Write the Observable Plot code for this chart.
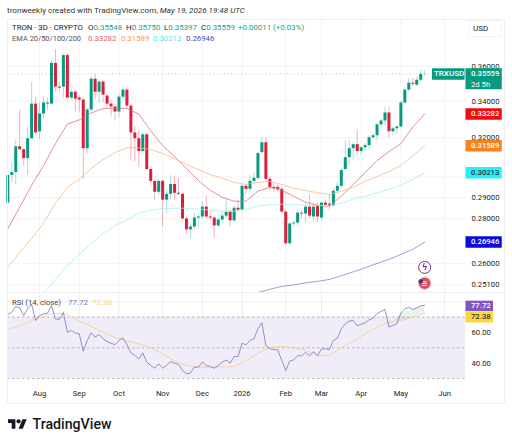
<!DOCTYPE html>
<html><head><meta charset="utf-8">
<script src="https://cdn.jsdelivr.net/npm/d3@7"></script>
<script src="https://cdn.jsdelivr.net/npm/@observablehq/plot@0.6"></script>
<style>
html,body{margin:0;padding:0;background:#fff}
body{width:512px;height:444px;position:relative;overflow:hidden;font-family:Roboto,"Liberation Sans",sans-serif;color:#222}
.a{position:absolute;white-space:nowrap;line-height:1}
svg{display:block}
#frame{position:absolute;left:6.5px;top:19px;width:498px;height:385px;border:1px solid #f0f0f0;box-sizing:border-box}
#sep{position:absolute;left:7px;top:292px;width:497px;height:1px;background:#eee}
#usd{position:absolute;left:468px;top:20px;width:34px;height:17px;border:1px solid #f3f3f3;border-radius:2px;box-sizing:border-box}
</style></head><body>
<div id="price" class="a" style="left:0;top:19px"></div>
<div id="rsi" class="a" style="left:0;top:293px"></div>
<div id="frame"></div><div id="sep"></div><div id="usd"></div>
<div class="a" style="left:7px;top:6px;font-size:8.1px;color:#333">tronweekly created with TradingView.com, <i>May 19, 2026 19:48 UTC</i></div>
<div id="legends"></div>
<div class="a" style="left:473px;top:25px;font-size:8px">USD</div>
<svg class="a" style="left:8px;top:419px" width="19" height="10" viewBox="0 4 36 18"><path d="M14 22H7V11H0V4h14v18zM28 22h-8l7.5-18h8L28 22z" fill="#131722"/><circle cx="20" cy="8" r="4" fill="#131722"/></svg>
<div class="a" style="left:32.5px;top:417px;font-size:14.2px;font-weight:500;color:#131722">TradingView</div>
<script>
const opens=[.2873,.3007,.3022,.3153,.3138,.3092,.3195,.3383,.3232,.3328,.3383,.3383,.3618,.3479,.3479,.3665,.3417,.3450,.3417,.3406,.3143,.3350,.3525,.3450,.3508,.3428,.3383,.3367,.3339,.3422,.3462,.3372,.3226,.3195,.3128,.3216,.3037,.2978,.2925,.2978,.2887,.2915,.2963,.2920,.2915,.2799,.2749,.2762,.2803,.2808,.2854,.2808,.2803,.2767,.2794,.2812,.2831,.2790,.2849,.2840,.2954,.2939,.2978,.2993,.3123,.3174,.2988,.2949,.2949,.2939,.2831,.2687,.2776,.2780,.2826,.2822,.2854,.2808,.2859,.2803,.2873,.2868,.2859,.2930,.2954,.3037,.3097,.3143,.3164,.3128,.3148,.3159,.3200,.3211,.3269,.3290,.3334,.3232,.3248,.3258,.3389,.3462,.3502,.3490,.3519,.35548];
const highs=[.3027,.3072,.3190,.3350,.3138,.3258,.3508,.3417,.3389,.3422,.3417,.3635,.3701,.3508,.3677,.3677,.3462,.3462,.3428,.3417,.3361,.3542,.3553,.3519,.3519,.3439,.3406,.3383,.3434,.3473,.3473,.3383,.3258,.3237,.3226,.3226,.3047,.2983,.2988,.2983,.2934,.3007,.3002,.2993,.2920,.2808,.2771,.2826,.2822,.2877,.2906,.2831,.2812,.2803,.2831,.2892,.2840,.2859,.2887,.2963,.2963,.3007,.3022,.3123,.3200,.3200,.2998,.2968,.2959,.2949,.2840,.2780,.2790,.2840,.2835,.2868,.2911,.2868,.2873,.2877,.2887,.2915,.2944,.2973,.3042,.3185,.3185,.3174,.3242,.3153,.3169,.3211,.3226,.3280,.3301,.3367,.3367,.3258,.3264,.3400,.3473,.3530,.3530,.3536,.3577,.35750];
const lows=[.2868,.2973,.2959,.3133,.3052,.3007,.3195,.3211,.3190,.3301,.3350,.3383,.3450,.3450,.3417,.3417,.3406,.3339,.3339,.2988,.3118,.3339,.3406,.3389,.3389,.3361,.3312,.3290,.3307,.3406,.3361,.3082,.3077,.3047,.3118,.3032,.2968,.2887,.2911,.2762,.2822,.2887,.2887,.2906,.2790,.2731,.2709,.2753,.2758,.2799,.2799,.2790,.2709,.2758,.2780,.2799,.2762,.2780,.2831,.2831,.2915,.2925,.2963,.2983,.3112,.2978,.2934,.2925,.2925,.2822,.2678,.2678,.2762,.2767,.2799,.2780,.2799,.2790,.2780,.2790,.2849,.2840,.2859,.2920,.2944,.3027,.3057,.3082,.3107,.3107,.3133,.3133,.3185,.3185,.3253,.3264,.3200,.3211,.3216,.3253,.3378,.3450,.3484,.3484,.3508,.35397];
const closes=[.3007,.3022,.3153,.3138,.3092,.3195,.3383,.3226,.3328,.3389,.3389,.3618,.3479,.3473,.3665,.3417,.3450,.3411,.3406,.3143,.3350,.3525,.3450,.3508,.3434,.3383,.3367,.3339,.3422,.3462,.3372,.3226,.3195,.3128,.3216,.3037,.2978,.2925,.2978,.2887,.2915,.2963,.2920,.2915,.2799,.2749,.2762,.2803,.2808,.2854,.2808,.2803,.2767,.2794,.2812,.2831,.2790,.2849,.2840,.2954,.2939,.2978,.2993,.3118,.3174,.2988,.2949,.2944,.2939,.2831,.2687,.2776,.2780,.2826,.2822,.2854,.2812,.2854,.2808,.2873,.2863,.2859,.2930,.2954,.3032,.3097,.3143,.3164,.3128,.3148,.3159,.3200,.3211,.3269,.3290,.3334,.3232,.3248,.3258,.3389,.3462,.3502,.3496,.3519,.3553,.35559];
const rsiValues=[71.7,73.3,77,76.1,71.1,75.4,78.3,67.8,71.1,72.2,72.6,77.6,68.9,68.5,73,60.2,61.3,59.6,59.1,47.8,54.8,59.8,57,58.7,55.9,54.1,53,52,54.8,56.5,52.2,46.7,45,42.8,46.7,40.7,38.5,36.7,39.6,36.7,38.5,41.1,40,39.1,35.2,33,33.5,37.4,37.4,40.7,38.5,37.8,36.7,38.5,40.7,42,40,44.3,44.3,53,52,54.8,55.9,62.4,66.3,51.5,49.3,48.9,48.7,41.7,35.2,41.3,42.2,44.8,44.8,47,44.8,47.6,44.8,49.3,49.3,48.9,54.8,56.3,62.4,65.7,67.4,67.8,64.3,65.4,66.3,68.3,69.3,72.2,73.7,75,63.5,64.6,65.7,72.6,75.4,76.3,75,76.1,77.4,77.72];
// sampled every third bar
const ema20=[.2753,.2854,.2959,.3057,.3169,.3274,.3296,.3334,.3358,.3361,.3358,.3328,.3237,.3159,.3102,.3042,.2983,.2934,.2901,.2882,.2882,.2930,.2949,.2934,.2906,.2877,.2863,.2859,.2906,.2963,.3022,.3082,.3128,.3169,.3258,.33282];
const ema50=[.2584,.2648,.2709,.2780,.2873,.2949,.2988,.3042,.3087,.3123,.3148,.3148,.3138,.3118,.3092,.3062,.3037,.3012,.2993,.2973,.2963,.2973,.2978,.2963,.2944,.2934,.2922,.2915,.2930,.2949,.2978,.3002,.3027,.3057,.3107,.31589];
const ema100=[null,null,null,.2475,.2533,.2592,.2640,.2688,.2733,.2769,.2794,.2826,.2840,.2847,.2849,.2849,.2845,.2840,.2835,.2835,.2845,.2859,.2866,.2868,.2866,.2863,.2861,.2863,.2873,.2892,.2906,.2922,.2939,.2959,.2988,.30213];
const ema200=[null,null,null,null,null,null,null,null,null,null,null,null,null,null,null,null,null,null,null,null,null,.2479,.2492,.2504,.2510,.2519,.2525,.2533,.2548,.2565,.2582,.2601,.2618,.2640,.2662,.26946];
const rsiMA=[61.7,64.3,67.6,70.9,72.6,71.7,67.4,63.9,60.2,56.5,54.3,52.6,50,46.1,41.5,38.5,37.4,37.4,37.6,37.8,41.7,46.3,50.4,50.9,50,48.5,45.2,45,50,54.3,59.1,63.5,66.7,67.8,69.8,72.38];
const priceGrid=[.36,.34,.32,.30,.29,.28,.26,.251];
const priceTicks=[.36,.34,.32,.29,.28,.26,.251];
const rsiGrid=[40,60,80];
const rsiTicks=[40,60];
const rsiBands=[30,50,70];
const monthBars=[8,18,28,39,49,59,70,79,89,99,110];
const monthLabels=["Aug","Sep","Oct","Nov","Dec","2026","Feb","Mar","Apr","May","Jun"];
const priceTags=[
 {v:.33282,c:"#f20d0d",t:"#fff"},{v:.31589,c:"#f5831f",t:"#fff"},{v:.30213,c:"#26f0fa",t:"#333"},{v:.26946,c:"#0a0ae0",t:"#fff"}];

const GREEN="#089981",RED="#d81f3c";
const DAY=864e5, t0=Date.UTC(2025,6,8);           // first bar
const day=n=>new Date(t0+n*DAY);
const barDate=i=>day(i*3);
const xDomain=[day(-.23),day(373.8)];
const paneEnd=day(345.8), symEnd=day(345.5), tagStart=day(346.2), tagEnd=day(373.6), rsiTagEnd=day(367), labelAt=day(350), symStart=day(320.9);
const rows=opens.map((o,i)=>({date:barDate(i),o,h:highs[i],l:lows[i],c:closes[i],rsi:rsiValues[i]}));
const samples=ema20.map((_,k)=>({date:barDate(k*3),e20:ema20[k],e50:ema50[k],e100:ema100[k],e200:ema200[k],ma:rsiMA[k],rsi:rsiValues[k*3]}));
const monthDates=monthBars.map(barDate);
const col=d=>d.c>=d.o?GREEN:RED;
const fmt5=d3.format(".5f"), fmt2=d3.format(".2f");
const FONT="Roboto,'Liberation Sans',sans-serif";
const last=rows[rows.length-1];
const AX=7.7;

const price=Plot.plot({
 width:512,height:273,marginLeft:7,marginRight:10,marginTop:0,marginBottom:0,
 style:{fontFamily:FONT,background:"transparent",overflow:"visible"},
 x:{type:"utc",domain:xDomain,axis:null},
 y:{type:"log",domain:[.2479,.389],axis:null},
 marks:[
  Plot.ruleX(monthDates,{x:d=>d,stroke:"#f3f3f3"}),
  Plot.ruleY(priceGrid,{y:d=>d,x1:xDomain[0],x2:paneEnd,stroke:"#f3f3f3"}),
  Plot.ruleY([last.c],{y:d=>d,x1:xDomain[0],x2:paneEnd,stroke:"#8fcabd",strokeDasharray:"1,2.5",strokeWidth:.8}),
  Plot.ruleX(rows,{x:"date",y1:"l",y2:"h",stroke:col,strokeWidth:.8,strokeOpacity:.42}),
  Plot.ruleX(rows,{x:"date",y1:"o",y2:"c",stroke:col,strokeWidth:3}),
  Plot.line(samples,{x:"date",y:"e20",stroke:"#dd6a78",strokeWidth:.75,clip:true}),
  Plot.line(samples,{x:"date",y:"e50",stroke:"#f2bd8c",strokeWidth:.8,clip:true}),
  Plot.line(samples,{x:"date",y:"e100",stroke:"#a6f0ef",strokeWidth:.8,clip:true}),
  Plot.line(samples,{x:"date",y:"e200",stroke:"#8a80cc",strokeWidth:.8,clip:true}),
  Plot.axisY(priceTicks,{anchor:"right",dx:-31,tickSize:0,tickPadding:0,tickFormat:fmt5,fontSize:AX,fill:"#222",label:null}),
  // current-price tags
  Plot.ruleY([last.c],{y:d=>d,x1:symStart,x2:symEnd,stroke:GREEN,strokeWidth:11.5}),
  Plot.ruleY([.3527],{y:d=>d,x1:tagStart,x2:tagEnd,stroke:GREEN,strokeWidth:21}),
  Plot.text(["TRXUSD"],{x:day(322),y:()=>last.c,text:d=>d,textAnchor:"start",fill:"#fff",fontSize:8,fontWeight:500}),
  Plot.text([last.c],{x:labelAt,y:d=>d,text:d=>fmt5(d),textAnchor:"start",fill:"#fff",fontSize:AX,fontWeight:500}),
  Plot.text(["2d 5h"],{x:labelAt,y:()=>.3495,text:d=>d,textAnchor:"start",fill:"#fff",fontSize:AX}),
  // EMA tags
  Plot.ruleY(priceTags,{y:"v",x1:tagStart,x2:tagEnd,stroke:"c",strokeWidth:11.5}),
  Plot.text(priceTags,{x:labelAt,y:"v",text:d=>fmt5(d.v),textAnchor:"start",fill:"t",fontSize:AX,fontWeight:500}),
  // event markers
  Plot.dot([.2584],{x:barDate(105),y:d=>d,r:6,stroke:"#7b2d8e",fill:"#fff",strokeWidth:1}),
  Plot.text(["ϟ"],{x:barDate(105),y:()=>.2584,text:d=>d,fill:"#7b2d8e",fontSize:9,fontWeight:700}),
  Plot.dot([.2517],{x:barDate(105),y:d=>d,r:6,fill:"#d84a5e",stroke:"#e8aab2",strokeWidth:1}),
  Plot.text(["≡"],{x:barDate(105),y:()=>.2513,text:d=>d,fill:"#fff",fontSize:10,fontWeight:700}),
  Plot.dot([.2525],{x:barDate(104),y:d=>d,r:2.2,fill:"#2b3a8c"})
 ]});
document.getElementById("price").append(price);

const maTail=samples.slice(-4);
const rsi=Plot.plot({
 width:512,height:111,marginLeft:7,marginRight:10,marginTop:0,marginBottom:26,
 style:{fontFamily:FONT,background:"transparent",overflow:"visible"},
 x:{type:"utc",domain:xDomain,axis:null},
 y:{domain:[30,85.4],axis:null},
 marks:[
  Plot.rect([0],{x1:xDomain[0],x2:paneEnd,y1:30,y2:70,fill:"#7e57c2",fillOpacity:.11}),
  Plot.ruleX(monthDates,{x:d=>d,y1:30,y2:85.4,stroke:"#ececf2"}),
  Plot.ruleY(rsiGrid,{y:d=>d,x1:xDomain[0],x2:paneEnd,stroke:"#eeeef4"}),
  Plot.ruleY(rsiBands,{y:d=>d,x1:xDomain[0],x2:paneEnd,stroke:"#aaa5b5",strokeDasharray:"2.5,2.5",strokeWidth:.8}),
  Plot.areaY(maTail,{x:"date",y1:"ma",y2:"rsi",fill:"#4caf7d",fillOpacity:.14}),
  Plot.line(samples,{x:"date",y:"ma",stroke:"#f3cf9c",strokeWidth:.9}),
  Plot.line(rows,{x:"date",y:"rsi",stroke:"#7d73b8",strokeWidth:.8}),
  Plot.axisY(rsiTicks,{anchor:"right",dx:-31,tickSize:0,tickPadding:0,tickFormat:fmt2,fontSize:AX,fill:"#222",label:null}),
  Plot.ruleY([77.3],{y:d=>d,x1:tagStart,x2:rsiTagEnd,stroke:"#7e57c2",strokeWidth:10.5}),
  Plot.ruleY([70.1],{y:d=>d,x1:tagStart,x2:rsiTagEnd,stroke:"#fbd83a",strokeWidth:11}),
  Plot.text([77.72],{x:labelAt,y:()=>77.3,text:d=>fmt2(d),textAnchor:"start",fill:"#fff",fontSize:AX,fontWeight:500}),
  Plot.text([72.38],{x:labelAt,y:()=>70.1,text:d=>fmt2(d),textAnchor:"start",fill:"#333",fontSize:AX,fontWeight:500}),
  Plot.axisX(monthDates,{anchor:"bottom",tickSize:0,tickPadding:12,tickFormat:d=>monthLabels[monthDates.findIndex(m=>+m==+d)],fontSize:AX,fill:"#222",label:null})
 ]});
document.getElementById("rsi").append(rsi);

const T="#12a58c";
const legends=[
 [12,23.7,7.8,"#222","TRON · 3D · CRYPTO"],
 [88,23.7,7.9,"#222",`O<span style="color:${T}">0.35548</span>`],
 [126,23.7,7.9,"#222",`H<span style="color:${T}">0.35750</span>`],
 [164,23.7,7.9,"#222",`L<span style="color:${T}">0.35397</span>`],
 [201,23.7,7.9,"#222",`C<span style="color:${T}">0.35559</span>`],
 [238,23.7,7.9,T,"+0.00011 (+0.03%)"],
 [12,35,7.5,"#555","EMA 20/50/100/200"],
 [88,35,7.8,"#e8636f","0.33282"],[121,35,7.8,"#f3a05a","0.31589"],[153,35,7.8,"#5fe6ea","0.30213"],[186,35,7.8,"#4a4ac8","0.26946"],
 [12,299,7.7,"#444","RSI (14, close)"],[68,299,8,"#7d73b8","77.72"],[92,299,8,"#f5d98a","72.38"]];
document.getElementById("legends").innerHTML=legends.map(([x,y,f,c,t])=>`<div class="a" style="left:${x}px;top:${y}px;font-size:${f}px;color:${c}">${t}</div>`).join("");
</script>
</body></html>
